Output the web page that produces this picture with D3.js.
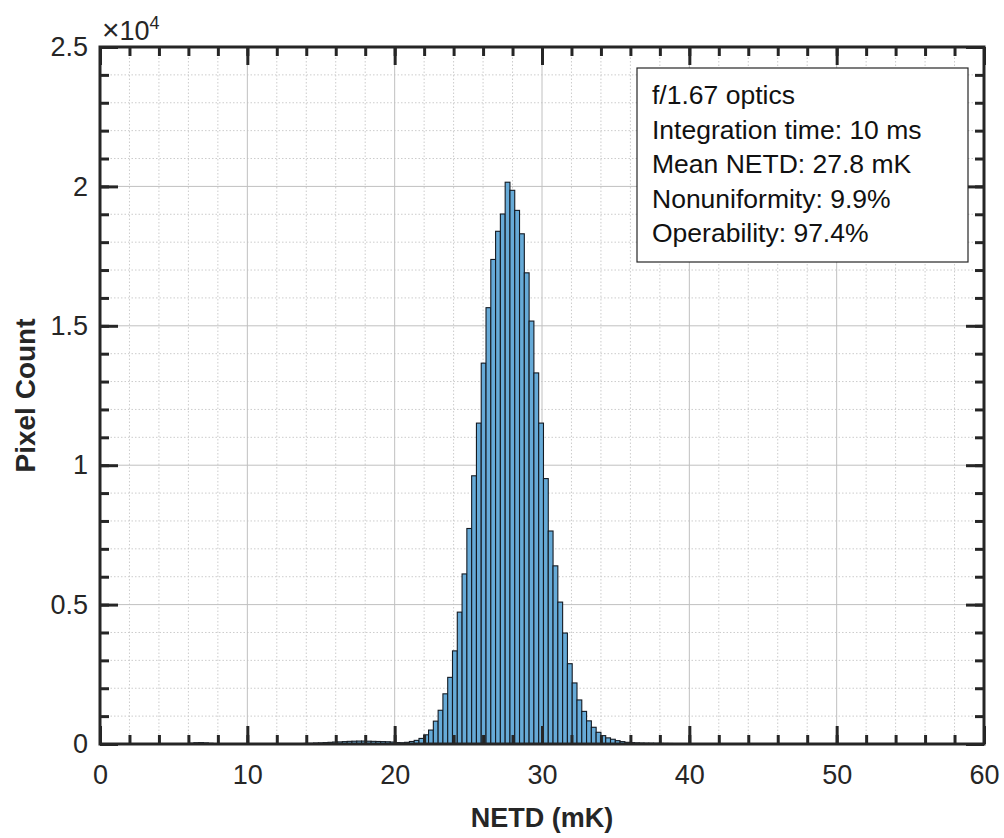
<!DOCTYPE html>
<html>
<head>
<meta charset="utf-8">
<script src="https://cdn.jsdelivr.net/npm/d3@7"></script>
<style>
  html, body { margin: 0; padding: 0; background: #fff; }
  svg { display: block; font-family: "Liberation Sans", Arial, Helvetica, sans-serif; }
</style>
</head>
<body>
<div id="chart"></div>
<script>
// histogram bins: left edge of first bin, bin width (mK), counts per bin
const binStart = 5.4
const binWidth = 0.325
const pixelCounts = [
    5, 15, 30, 45, 50, 40, 25, 12, 6,
    4, 3, 3, 3, 2, 2, 2, 3, 3, 3, 4, 4, 5, 6, 8,
    10, 15, 20, 25, 35, 40, 50, 60, 70, 75, 85, 95, 100, 105, 105, 100, 95, 90, 85, 80, 70,
    50, 45, 60, 90, 130, 200, 330, 500, 820, 1210, 1800, 2390, 3340, 4730, 6100, 7730,
    9620, 11510, 13660, 15650, 17380, 18390, 19010, 20150,
    19860, 19140, 18300, 16900, 15170, 13310, 11510, 9520, 7640, 6390, 5090, 3980, 2880,
    2190, 1580, 1170, 830, 600, 420, 300, 220, 170, 120, 85, 60,
    48, 40, 35, 30, 28, 25, 22, 20, 18, 16, 14, 12, 10, 9, 8, 7, 6, 5, 5, 4, 4, 3, 3
]

const xDomain = [0, 60]
const yDomain = [0, 25000]
const xTicks = [0, 10, 20, 30, 40, 50, 60]
const xMinorTicks = d3.range(0, 61, 2)
const yTicks = [0, 5000, 10000, 15000, 20000, 25000]
const yTickLabels = ['0', '0.5', '1', '1.5', '2', '2.5']
const yMinorTicks = d3.range(0, 25001, 1000)

const infoLines = [
    'f/1.67 optics',
    'Integration time: 10 ms',
    'Mean NETD: 27.8 mK',
    'Nonuniformity: 9.9%',
    'Operability: 97.4%'
]

const w = 1004, h = 838
const margin = {top: 47, right: 20, bottom: 94, left: 100}
const width = w - margin.left - margin.right
const height = h - margin.top - margin.bottom

const bins = pixelCounts.map((c, i) => ({x0: binStart + i * binWidth, x1: binStart + (i + 1) * binWidth, count: c}))

const x = d3.scaleLinear().domain(xDomain).range([0, width])
const y = d3.scaleLinear().domain(yDomain).range([height, 0])

const svg = d3.select('#chart').append('svg')
    .attr('width', w)
    .attr('height', h)

const chart = svg.append('g')
    .attr('transform', 'translate(' + margin.left + ',' + margin.top + ')')

// minor grid (dotted)
const grid = chart.append('g').attr('class', 'grid')
grid.selectAll('line.vminor')
    .data(xMinorTicks.filter(d => d % 10 !== 0))
    .enter().append('line')
    .attr('x1', d => x(d)).attr('x2', d => x(d))
    .attr('y1', 0).attr('y2', height)
    .attr('stroke', '#cccccc').attr('stroke-dasharray', '1.5,2')
grid.selectAll('line.hminor')
    .data(yMinorTicks.filter(d => d % 5000 !== 0))
    .enter().append('line')
    .attr('y1', d => y(d)).attr('y2', d => y(d))
    .attr('x1', 0).attr('x2', width)
    .attr('stroke', '#cccccc').attr('stroke-dasharray', '1.5,2')
// major grid
grid.selectAll('line.vmajor')
    .data(xTicks)
    .enter().append('line')
    .attr('x1', d => x(d)).attr('x2', d => x(d))
    .attr('y1', 0).attr('y2', height)
    .attr('stroke', '#c0c0c0')
grid.selectAll('line.hmajor')
    .data(yTicks)
    .enter().append('line')
    .attr('y1', d => y(d)).attr('y2', d => y(d))
    .attr('x1', 0).attr('x2', width)
    .attr('stroke', '#c0c0c0')

// bars
chart.append('g')
    .attr('class', 'bars')
    .selectAll('rect')
    .data(bins)
    .enter()
    .append('rect')
    .attr('x', d => x(d.x0))
    .attr('width', d => x(d.x1) - x(d.x0))
    .attr('y', d => y(d.count))
    .attr('height', d => height - y(d.count))
    .attr('fill', '#66aad7')
    .attr('stroke', '#141a22')
    .attr('stroke-width', 1.1)

// axes (ticks point inward on all four sides)
function styleAxis(g) {
    g.select('.domain').remove()
    g.selectAll('.tick line').attr('stroke', '#262626').attr('stroke-width', 3)
    g.selectAll('.tick text').attr('fill', '#262626').style('font-size', '27px')
}

chart.append('g').attr('transform', 'translate(0,' + height + ')')
    .call(d3.axisBottom(x).tickValues(xMinorTicks).tickSize(-9).tickFormat(''))
    .call(styleAxis)
chart.append('g').attr('transform', 'translate(0,' + height + ')')
    .call(d3.axisBottom(x).tickValues(xTicks).tickSize(-18).tickPadding(21).tickFormat(d3.format('d')))
    .call(styleAxis)
chart.append('g')
    .call(d3.axisTop(x).tickValues(xMinorTicks).tickSize(-9).tickFormat(''))
    .call(styleAxis)
chart.append('g')
    .call(d3.axisTop(x).tickValues(xTicks).tickSize(-18).tickFormat(''))
    .call(styleAxis)

chart.append('g')
    .call(d3.axisLeft(y).tickValues(yMinorTicks).tickSize(-9).tickFormat(''))
    .call(styleAxis)
chart.append('g')
    .call(d3.axisLeft(y).tickValues(yTicks).tickSize(-18).tickPadding(12)
        .tickFormat((d, i) => yTickLabels[i]))
    .call(styleAxis)
chart.append('g').attr('transform', 'translate(' + width + ',0)')
    .call(d3.axisRight(y).tickValues(yMinorTicks).tickSize(-9).tickFormat(''))
    .call(styleAxis)
chart.append('g').attr('transform', 'translate(' + width + ',0)')
    .call(d3.axisRight(y).tickValues(yTicks).tickSize(-18).tickFormat(''))
    .call(styleAxis)

// frame
chart.append('rect')
    .attr('x', 0).attr('y', 0)
    .attr('width', width).attr('height', height)
    .attr('fill', 'none')
    .attr('stroke', '#262626')
    .attr('stroke-width', 3)

// exponent label
const expo = chart.append('text')
    .attr('x', 2).attr('y', -7)
    .attr('fill', '#262626')
    .style('font-size', '27px')
expo.append('tspan').style('font-size', '30px').text('\u00d7')
expo.append('tspan').text('10')
expo.append('tspan').attr('dy', -11).style('font-size', '18px').text('4')

// axis labels
svg.append('text')
    .attr('x', margin.left + width / 2)
    .attr('y', 827)
    .attr('text-anchor', 'middle')
    .attr('fill', '#262626')
    .style('font-size', '27px').style('font-weight', 'bold')
    .text('NETD (mK)')
svg.append('text')
    .attr('transform', 'translate(35,' + (margin.top + height / 2) + ') rotate(-90)')
    .attr('text-anchor', 'middle')
    .attr('fill', '#262626')
    .style('font-size', '28px').style('font-weight', 'bold')
    .text('Pixel Count')

// info box
const box = svg.append('g').attr('transform', 'translate(637,68)')
box.append('rect')
    .attr('width', 331).attr('height', 194)
    .attr('fill', '#fff')
    .attr('stroke', '#262626')
    .attr('stroke-width', 1.2)
box.selectAll('text')
    .data(infoLines)
    .enter().append('text')
    .attr('x', 15)
    .attr('y', (d, i) => 36 + i * 34.5)
    .attr('fill', '#111')
    .style('font-size', '26.5px')
    .text(d => d)
</script>
</body>
</html>
